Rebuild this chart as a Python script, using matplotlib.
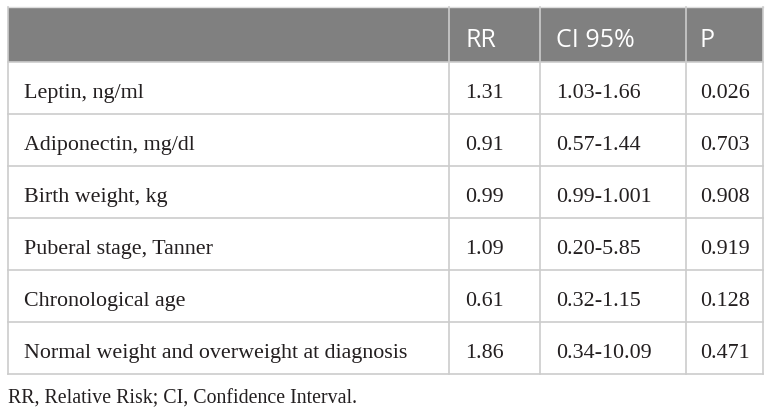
import matplotlib
matplotlib.use("Agg")
import matplotlib.pyplot as plt
from matplotlib.patches import Rectangle

headers = ["", "RR", "CI 95%", "P"]
labels = ["Leptin, ng/ml", "Adiponectin, mg/dl", "Birth weight, kg",
          "Puberal stage, Tanner", "Chronological age",
          "Normal weight and overweight at diagnosis"]
rr = ["1.31", "0.91", "0.99", "1.09", "0.61", "1.86"]
ci = ["1.03-1.66", "0.57-1.44", "0.99-1.001", "0.20-5.85", "0.32-1.15", "0.34-10.09"]
pv = ["0.026", "0.703", "0.908", "0.919", "0.128", "0.471"]
caption = "RR, Relative Risk; CI, Confidence Interval."

W, H = 772, 414
fig = plt.figure(figsize=(W / 100, H / 100), dpi=100)
ax = fig.add_axes([0, 0, 1, 1])
ax.set_xlim(0, W)
ax.set_ylim(H, 0)
ax.axis("off")

col_x = [8, 449, 540, 686, 763]
top, head_bot, row_h = 8, 63, 52
n = len(labels)
bottom = head_bot + n * row_h
line_c = "#cccccc"
txt_c = "#231f20"

# header band
ax.add_patch(Rectangle((col_x[0], top), col_x[-1] - col_x[0], head_bot - top,
                       facecolor="#808080", edgecolor="none", zorder=1))
# horizontal lines
for k in range(n + 1):
    y = head_bot + k * row_h
    ax.plot([col_x[0], col_x[-1]], [y, y], color=line_c, lw=1.2, zorder=2)
ax.plot([col_x[0], col_x[-1]], [top, top], color="#dddddd", lw=1.0, zorder=2)
# vertical lines
for x in col_x:
    ax.plot([x, x], [top, bottom], color=line_c, lw=1.2, zorder=2)

pad = [16, 16, 16, 14]
for j, h in enumerate(headers):
    ax.text(col_x[j] + pad[j], 47, h, color="white", fontsize=18,
            family="Open Sans", va="baseline", ha="left", zorder=3)

cols = [labels, rr, ci, pv]
for i in range(n):
    yb = head_bot + i * row_h + 35
    for j, col in enumerate(cols):
        ax.text(col_x[j] + pad[j], yb, col[i], color=txt_c, fontsize=15.8,
                family="Liberation Serif", va="baseline", ha="left", zorder=3)

ax.text(8, 403, caption, color=txt_c, fontsize=14.3, family="Liberation Serif",
        va="baseline", ha="left")

fig.savefig("out.png", dpi=100, facecolor="white")
